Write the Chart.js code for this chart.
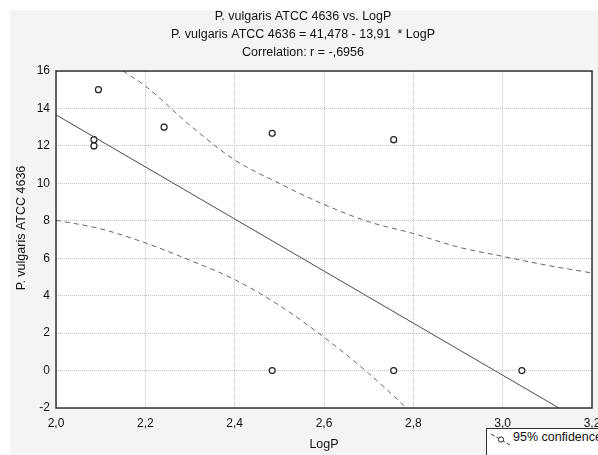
<!DOCTYPE html>
<html>
<head>
<meta charset="utf-8">
<script src="https://cdn.jsdelivr.net/npm/chart.js@4/dist/chart.umd.min.js"></script>
<style>
  html, body { margin: 0; padding: 0; background: #fff; overflow: hidden; }
  #wrap { position: relative; width: 598px; height: 455px; overflow: hidden; }
  #legend {
    position: absolute; left: 486px; top: 428px; width: 140px; height: 40px;
    border: 1px solid #333; background: #fff;
    font: 12.5px "Liberation Sans", Arial, sans-serif; color: #111;
  }
  #legend svg { position: absolute; left: 3px; top: 3px; }
  #legend span { position: absolute; left: 26px; top: 1px; line-height: 14px; white-space: nowrap; }
</style>
</head>
<body>
<div id="wrap">
  <canvas id="chart" width="598" height="455"></canvas>
  <div id="legend">
    <svg width="22" height="14">
      <line x1="1" y1="2" x2="20" y2="13" stroke="#444" stroke-width="1" stroke-dasharray="4,2"/>
      <circle cx="11" cy="7.5" r="2.6" fill="#fff" stroke="#222" stroke-width="1"/>
    </svg>
    <span>95% confidence</span>
  </div>
</div>
<script>
// observed points
const logP = [2.085, 2.085, 2.095, 2.242, 2.484, 2.484, 2.756, 2.756, 3.043];
const activity = [12.33, 12.0, 15.0, 13.0, 12.67, 0, 12.33, 0, 0];

// fitted line: 41,478 - 13,91 * LogP
const fitX = [2.0, 3.2];
const fitY = [13.66, -3.03];

// 95% confidence bands
const upperX = [2.15, 2.2, 2.3, 2.4, 2.5, 2.6, 2.7, 2.8, 2.9, 3.0, 3.1, 3.2];
const upperY = [16.0, 15.2, 13.1, 11.25, 10.0, 8.87, 7.95, 7.32, 6.6, 6.1, 5.62, 5.21];
const lowerX = [2.0, 2.1, 2.2, 2.3, 2.4, 2.5, 2.6, 2.7, 2.785];
const lowerY = [8.03, 7.57, 6.82, 5.89, 4.86, 3.48, 1.78, -0.15, -2.0];

const titleLines = [
  "P. vulgaris ATCC 4636 vs. LogP",
  "P. vulgaris ATCC 4636 = 41,478 - 13,91  * LogP",
  "Correlation: r = -,6956"
];
const xTitle = "LogP";
const yTitle = "P. vulgaris ATCC 4636";

const pairs = (xs, ys) => xs.map((x, i) => ({ x: x, y: ys[i] }));
const FONT = "'Liberation Sans', Arial, sans-serif";
const comma = v => Number(v).toFixed(1).replace(".", ",");

const framePlugin = {
  id: "frame",
  beforeDraw(chart) {
    const ctx = chart.ctx, a = chart.chartArea;
    ctx.save();
    ctx.fillStyle = "#f4f4f4";
    ctx.fillRect(10, 10, chart.width - 10, chart.height - 10);
    ctx.fillStyle = "#fff";
    ctx.fillRect(a.left, a.top, a.right - a.left, a.bottom - a.top);
    ctx.restore();
  },
  afterDraw(chart) {
    const ctx = chart.ctx, a = chart.chartArea;
    ctx.save();
    ctx.strokeStyle = "#333";
    ctx.lineWidth = 1.5;
    ctx.strokeRect(a.left, a.top, a.right - a.left, a.bottom - a.top);
    // y axis title
    ctx.fillStyle = "#111";
    ctx.font = "12.5px " + FONT;
    ctx.textAlign = "center";
    ctx.textBaseline = "middle";
    ctx.translate(22, 228);
    ctx.rotate(-Math.PI / 2);
    ctx.fillText(yTitle, 0, 0);
    ctx.restore();
  }
};

Chart.defaults.font.family = FONT;
Chart.defaults.font.size = 12;
Chart.defaults.color = "#111";

new Chart(document.getElementById("chart"), {
  type: "scatter",
  data: {
    datasets: [
      {
        label: "Fit",
        data: pairs(fitX, fitY),
        showLine: true,
        borderColor: "#4a4a4a",
        borderWidth: 1,
        pointRadius: 0
      },
      {
        label: "95% confidence",
        data: pairs(upperX, upperY),
        showLine: true,
        borderColor: "#666",
        borderWidth: 1,
        borderDash: [5, 4],
        cubicInterpolationMode: "monotone",
        pointRadius: 0
      },
      {
        label: "95% confidence lower",
        data: pairs(lowerX, lowerY),
        showLine: true,
        borderColor: "#666",
        borderWidth: 1,
        borderDash: [5, 4],
        cubicInterpolationMode: "monotone",
        pointRadius: 0
      },
      {
        label: "Observed",
        data: pairs(logP, activity),
        pointRadius: 3,
        pointBackgroundColor: "#fff",
        pointBorderColor: "#222",
        pointBorderWidth: 1.2
      }
    ]
  },
  options: {
    responsive: false,
    animation: false,
    devicePixelRatio: 1,
    layout: { autoPadding: false, padding: { left: 14, right: 6, top: 0, bottom: 0 } },
    plugins: {
      legend: { display: false },
      tooltip: { enabled: false },
      title: {
        display: true,
        text: titleLines,
        color: "#111",
        font: { size: 12.5, weight: "normal", lineHeight: 1.44 },
        padding: { top: 8, bottom: 9 }
      }
    },
    scales: {
      x: {
        type: "linear",
        min: 2.0,
        max: 3.2,
        afterFit: s => {
          s.height = 47;
          s.paddingLeft = 0;
          s.paddingRight = 0;
        },
        ticks: { stepSize: 0.2, padding: 8, callback: v => comma(v) },
        grid: { color: "#c4c4c4", drawTicks: false },
        border: { display: false, dash: [1, 1] },
        title: { display: true, text: xTitle, font: { size: 12.5 }, padding: { top: 0, bottom: 3 } }
      },
      y: {
        min: -2,
        max: 16,
        afterFit: s => {
          s.width = 42;
          s.paddingTop = 0;
          s.paddingBottom = 0;
        },
        ticks: { stepSize: 2, padding: 6 },
        grid: { color: "#c4c4c4", drawTicks: false },
        border: { display: false, dash: [1, 1] }
      }
    }
  },
  plugins: [framePlugin]
});
</script>
</body>
</html>
